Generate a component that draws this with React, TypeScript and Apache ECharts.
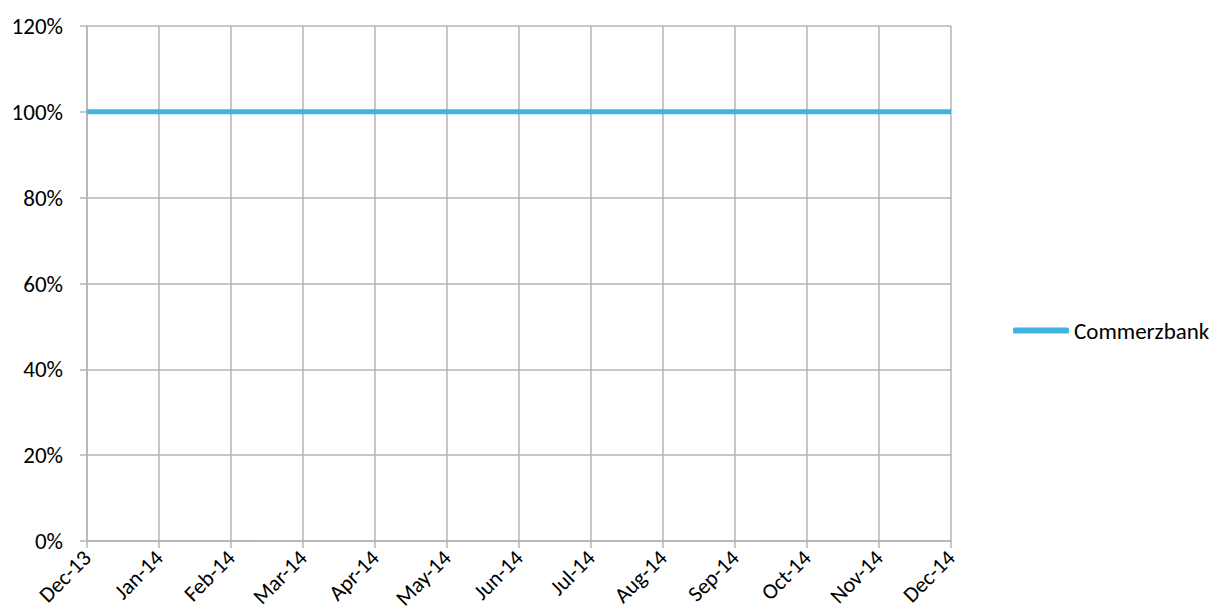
import React, { useEffect, useRef } from "react";
import * as echarts from "echarts";

const months = ["Dec-13", "Jan-14", "Feb-14", "Mar-14", "Apr-14", "May-14", "Jun-14", "Jul-14", "Aug-14", "Sep-14", "Oct-14", "Nov-14", "Dec-14"];
const commerzbank = [1, 1, 1, 1, 1, 1, 1, 1, 1, 1, 1, 1, 1];
const seriesName = "Commerzbank";

const FONT = "Carlito, Calibri, Lato, sans-serif";

export default function App() {
  const ref = useRef<HTMLDivElement>(null);
  useEffect(() => {
    const chart = echarts.init(ref.current!, null, { renderer: "svg" });
    chart.setOption({
      animation: false,
      backgroundColor: "#ffffff",
      grid: { left: 87, right: 267, top: 26, bottom: 75, containLabel: false },
      legend: {
        data: [{ name: seriesName, icon: "roundRect" }],
        left: 1013,
        top: 319,
        padding: 0,
        itemWidth: 56,
        itemHeight: 6,
        itemGap: 5,
        textStyle: { fontFamily: FONT, fontSize: 23, color: "#000", padding: [0, 0, 0, 0] },
      },
      xAxis: {
        type: "category",
        data: months,
        boundaryGap: false,
        axisLine: { show: true, lineStyle: { color: "#b4b4b4", width: 1.5 } },
        axisTick: { show: true, length: 7, alignWithLabel: true, lineStyle: { color: "#b4b4b4", width: 1.5 } },
        splitLine: { show: true, lineStyle: { color: "#b4b4b4", width: 1.5 } },
        axisLabel: {
          rotate: 45,
          interval: 0,
          margin: 13,
          fontFamily: FONT,
          fontSize: 22,
          color: "#000",
        },
      },
      yAxis: {
        type: "value",
        min: 0,
        max: 1.2,
        interval: 0.2,
        axisLine: { show: true, lineStyle: { color: "#b4b4b4", width: 1.5 } },
        axisTick: { show: true, length: 7, lineStyle: { color: "#b4b4b4", width: 1.5 } },
        splitLine: { show: true, lineStyle: { color: "#b4b4b4", width: 1.5 } },
        axisLabel: {
          margin: 24,
          fontFamily: FONT,
          fontSize: 23,
          color: "#000",
          formatter: (v: number) => Math.round(v * 100) + "%",
        },
      },
      series: [
        {
          name: seriesName,
          type: "line",
          data: commerzbank,
          showSymbol: false,
          symbol: "none",
          lineStyle: { color: "#3fb4e4", width: 5 },
          itemStyle: { color: "#3fb4e4" },
        },
      ],
    });
    return () => chart.dispose();
  }, []);
  return <div ref={ref} style={{ width: 1218, height: 616, position: "absolute", left: 0, top: 0 }} />;
}
